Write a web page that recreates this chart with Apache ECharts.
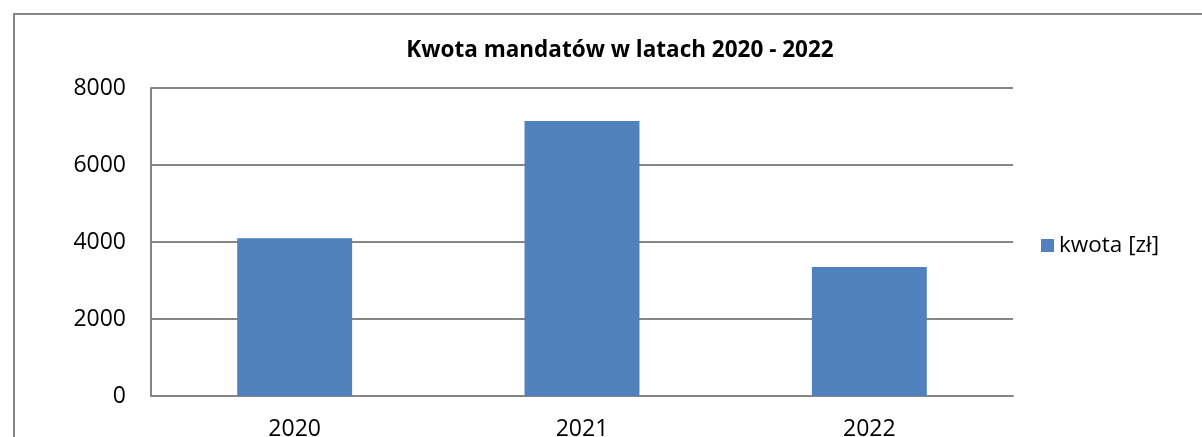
<!DOCTYPE html>
<html><head><meta charset="utf-8">
<script src="https://cdn.jsdelivr.net/npm/echarts@6/dist/echarts.min.js"></script>
<style>html,body{margin:0;padding:0;background:#fff}#c{width:1202px;height:437px}</style>
</head><body><div id="c"></div>
<script>
const categories = ['2020', '2021', '2022'];
const seriesName = 'kwota [zł]';
const values = [4100, 7140, 3350];
const titleText = 'Kwota mandatów w latach 2020 - 2022';

const chart = echarts.init(document.getElementById('c'));
chart.setOption({
  animation: false,
  backgroundColor: '#fff',
  textStyle: { fontFamily: 'Open Sans' },
  graphic: [{
    type: 'rect', shape: { x: 14, y: 14, width: 1400, height: 600 },
    style: { fill: null, stroke: '#868686', lineWidth: 2 }, silent: true, z: -1
  }],
  title: {
    text: titleText, left: 615, top: 34, textAlign: 'center',
    textStyle: { fontFamily: 'Open Sans', fontWeight: 'bold', fontSize: 22.5, color: '#000' }
  },
  legend: {
    data: [seriesName], left: 1036, top: 229, orient: 'vertical',
    icon: 'rect', itemWidth: 13, itemHeight: 13, itemGap: 8,
    textStyle: { fontFamily: 'Open Sans', fontSize: 22.5, color: '#000' }
  },
  grid: { left: 151, right: 189, top: 88, bottom: 41, outerBoundsMode: 'none', containLabel: false },
  xAxis: {
    type: 'category', data: categories,
    axisLine: { lineStyle: { color: '#868686', width: 2 } },
    axisTick: { show: false },
    axisLabel: { fontFamily: 'Open Sans', fontSize: 23, color: '#000', margin: 22 }
  },
  yAxis: {
    type: 'value', min: 0, max: 8000, interval: 2000,
    axisLine: { show: true, lineStyle: { color: '#868686', width: 2 } },
    axisTick: { show: false },
    splitLine: { lineStyle: { color: '#868686', width: 2 } },
    axisLabel: { fontFamily: 'Open Sans', fontSize: 23, color: '#000', margin: 25,
      formatter: function (v) { return String(v); } }
  },
  series: [{
    name: seriesName, type: 'bar', data: values, barWidth: '40%',
    itemStyle: { color: '#4F81BD' }
  }]
});
</script></body></html>
